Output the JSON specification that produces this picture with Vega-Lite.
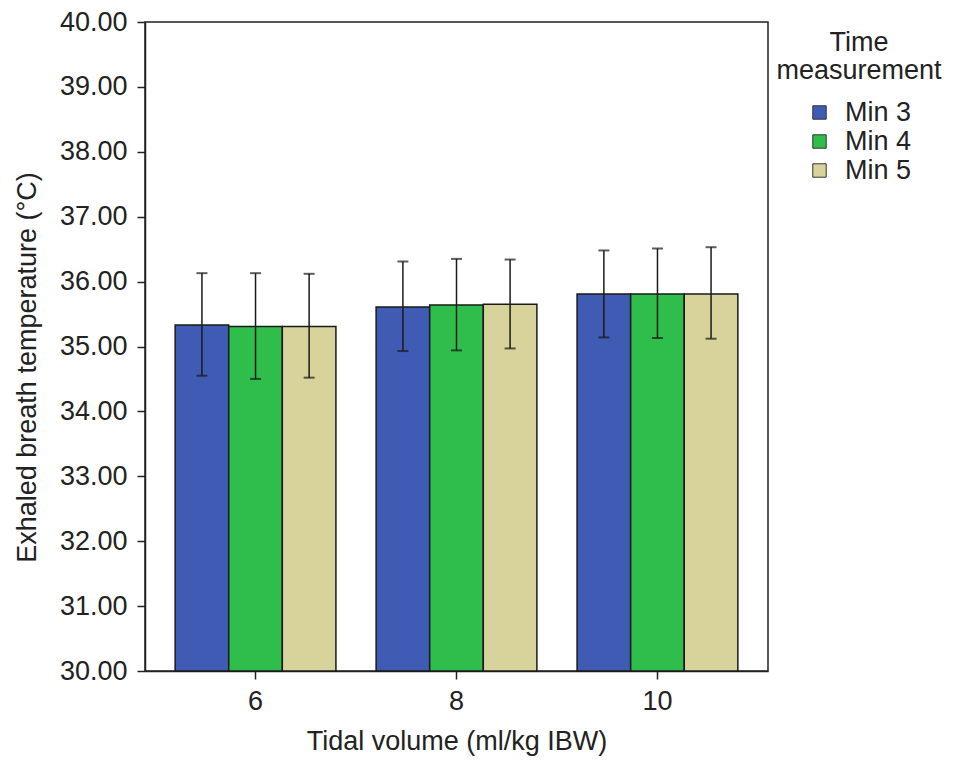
{
  "$schema": "https://vega.github.io/schema/vega-lite/v6.json",
  "description": "Exhaled breath temperature by tidal volume and time measurement.",
  "autosize": "none",
  "padding": {"left": 145, "top": 22, "right": 201, "bottom": 102},
  "width": 623,
  "height": 649,
  "background": "white",
  "config": {
    "font": "Liberation Sans",
    "view": {"stroke": "#222222", "strokeWidth": 1.5},
    "axis": {
      "labelFont": "Liberation Sans",
      "titleFont": "Liberation Sans",
      "labelFontSize": 27,
      "titleFontSize": 27,
      "titleFontWeight": "normal",
      "labelColor": "#222222",
      "titleColor": "#222222",
      "domainColor": "#222222",
      "tickColor": "#222222",
      "domainWidth": 1.5,
      "tickWidth": 1.5,
      "tickSize": 8,
      "grid": false
    },
    "legend": {
      "labelFont": "Liberation Sans",
      "titleFont": "Liberation Sans",
      "labelFontSize": 27,
      "titleFontSize": 27,
      "titleFontWeight": "normal",
      "labelColor": "#222222",
      "titleColor": "#222222"
    }
  },
  "data": {
    "values": [
      {"tv": "6", "time": "Min 3", "mean": 35.33, "lo": 34.55, "hi": 36.13},
      {"tv": "6", "time": "Min 4", "mean": 35.31, "lo": 34.50, "hi": 36.13},
      {"tv": "6", "time": "Min 5", "mean": 35.31, "lo": 34.52, "hi": 36.12},
      {"tv": "8", "time": "Min 3", "mean": 35.61, "lo": 34.93, "hi": 36.31},
      {"tv": "8", "time": "Min 4", "mean": 35.64, "lo": 34.94, "hi": 36.35},
      {"tv": "8", "time": "Min 5", "mean": 35.65, "lo": 34.97, "hi": 36.34},
      {"tv": "10", "time": "Min 3", "mean": 35.81, "lo": 35.14, "hi": 36.48},
      {"tv": "10", "time": "Min 4", "mean": 35.81, "lo": 35.13, "hi": 36.51},
      {"tv": "10", "time": "Min 5", "mean": 35.81, "lo": 35.12, "hi": 36.53}
    ]
  },
  "encoding": {
    "x": {
      "field": "tv",
      "type": "nominal",
      "sort": ["6", "8", "10"],
      "scale": {"paddingInner": 0.2, "paddingOuter": 0.15},
      "axis": {"labelAngle": 0, "labelPadding": 9, "titlePadding": 14},
      "title": "Tidal volume (ml/kg IBW)"
    },
    "xOffset": {"field": "time", "type": "nominal", "sort": ["Min 3", "Min 4", "Min 5"]}
  },
  "layer": [
    {
      "mark": {"type": "bar", "stroke": "#1a1a1a", "strokeWidth": 1.5},
      "encoding": {
        "y": {
          "field": "mean",
          "type": "quantitative",
          "scale": {"domain": [30, 40], "nice": false, "zero": false},
          "axis": {"values": [30, 31, 32, 33, 34, 35, 36, 37, 38, 39, 40], "format": ".2f", "labelPadding": 10, "titlePadding": 18, "titleY": 345},
          "title": "Exhaled breath temperature (°C)"
        },
        "y2": {"datum": 30},
        "color": {
          "field": "time",
          "type": "nominal",
          "sort": ["Min 3", "Min 4", "Min 5"],
          "scale": {"domain": ["Min 3", "Min 4", "Min 5"], "range": ["#3f5bb3", "#2fbe4b", "#d8d39b"]},
          "legend": {
            "title": ["Time", "measurement"],
            "orient": "none",
            "legendX": 631,
            "legendY": 8,
            "titleAlign": "center",
            "titleAnchor": "middle",
            "titleLineHeight": 28,
            "titlePadding": 14,
            "symbolType": "square",
            "symbolSize": 180,
            "symbolStrokeColor": "#333333",
            "symbolStrokeWidth": 1,
            "rowPadding": 1,
            "labelOffset": 12,
            "padding": 0
          }
        }
      }
    },
    {
      "mark": {"type": "rule", "color": "#1a1a1a", "strokeWidth": 1.5},
      "encoding": {
        "y": {"field": "lo", "type": "quantitative"},
        "y2": {"field": "hi"}
      }
    },
    {
      "mark": {"type": "tick", "color": "#1a1a1a", "thickness": 2, "size": 11},
      "encoding": {"y": {"field": "lo", "type": "quantitative"}}
    },
    {
      "mark": {"type": "tick", "color": "#1a1a1a", "thickness": 2, "size": 11},
      "encoding": {"y": {"field": "hi", "type": "quantitative"}}
    }
  ]
}
